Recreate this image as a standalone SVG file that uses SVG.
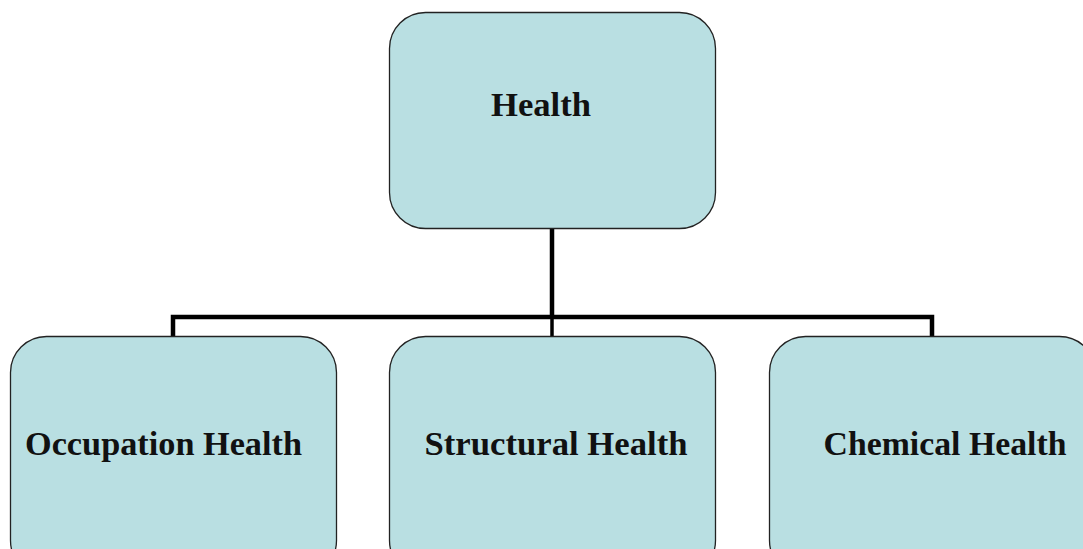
<svg xmlns="http://www.w3.org/2000/svg" width="1083" height="549" viewBox="0 0 1083 549">
<style>
.box{fill:#b9dfe2;stroke:#222;stroke-width:1.3}
.lbl{font-family:"Liberation Serif",serif;font-weight:bold;font-size:34px;fill:#111;text-anchor:middle}
.con{fill:none;stroke:#000;stroke-width:4.5;stroke-linejoin:miter}
</style>
<rect width="1083" height="549" fill="#fff"/>
<g id="connectors">
<path class="con" d="M552,229 V317"/>
<path class="con" d="M173,336 V317 H932 V336"/>
<path class="con" d="M552,317 V336" style="stroke-width:3.5"/>
</g>
<g id="health">
<rect class="box" x="389.5" y="12.5" width="326" height="216" rx="36"/>
<text class="lbl" x="541" y="116" textLength="100" lengthAdjust="spacingAndGlyphs">Health</text>
</g>
<g id="occupation">
<rect class="box" x="10.5" y="336.5" width="326" height="240" rx="36"/>
<text class="lbl" x="163.5" y="455" textLength="277" lengthAdjust="spacingAndGlyphs">Occupation Health</text>
</g>
<g id="structural">
<rect class="box" x="389.5" y="336.5" width="326" height="240" rx="36"/>
<text class="lbl" x="556" y="455" textLength="263" lengthAdjust="spacingAndGlyphs">Structural Health</text>
</g>
<g id="chemical">
<rect class="box" x="769.5" y="336.5" width="326" height="240" rx="36"/>
<text class="lbl" x="945" y="455" textLength="243" lengthAdjust="spacingAndGlyphs">Chemical Health</text>
</g>
</svg>
